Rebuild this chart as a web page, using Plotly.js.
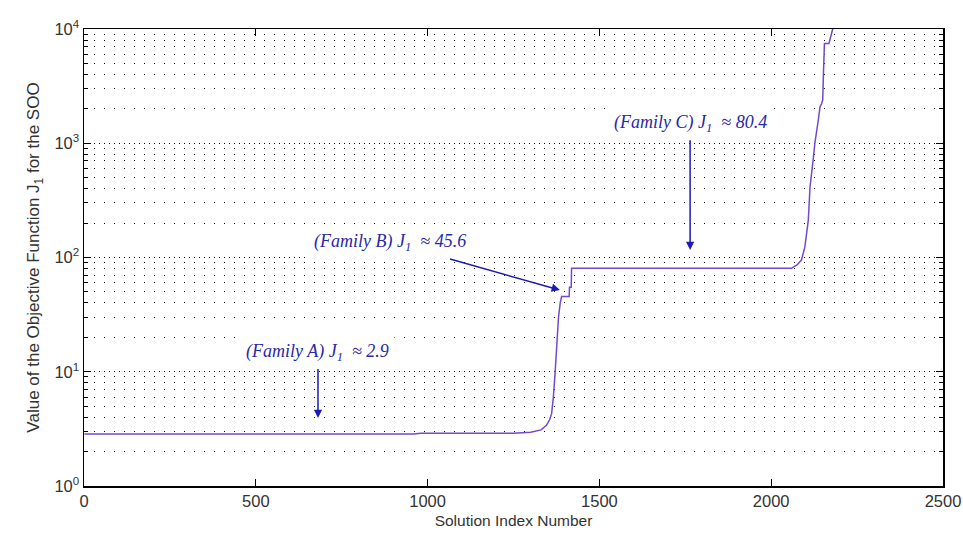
<!DOCTYPE html>
<html>
<head>
<meta charset="utf-8">
<script src="https://cdn.plot.ly/plotly-3.0.1.min.js"></script>
<style>html,body{margin:0;padding:0;background:#fff;}#chart{width:963px;height:539px;}</style>
</head>
<body>
<div id="chart"></div>
<script>
// Solution index numbers and objective values J1
var solutionIndex = [1, 960, 980, 1250, 1300, 1330, 1346, 1355, 1361, 1366, 1371, 1376, 1381, 1386, 1390, 1412, 1413, 1418, 1419, 2059, 2075, 2088, 2098, 2108, 2113, 2122, 2127, 2137, 2142, 2147, 2150, 2152, 2155, 2166, 2168, 2179, 2182];
var objectiveJ1   = [2.85, 2.85, 2.9, 2.9, 2.95, 3.1, 3.4, 3.8, 4.3, 6, 9.7, 18, 30, 40, 45.6, 45.6, 55, 55, 80.4, 80.4, 86, 95, 124, 212, 416, 711, 996, 1590, 2080, 2230, 2400, 4080, 7460, 7460, 7460, 10000, 12000];

var yTickVals  = [1, 10, 100, 1000, 10000];
var yTickText  = ['10<sup>0</sup>', '10<sup>1</sup>', '10<sup>2</sup>', '10<sup>3</sup>', '10<sup>4</sup>'];
var xTickVals  = [0, 500, 1000, 1500, 2000, 2500];

var annTexts = [
  '(Family A) J<sub>1</sub>  ≈ 2.9',
  '(Family B) J<sub>1</sub>  ≈ 45.6',
  '(Family C) J<sub>1</sub>  ≈ 80.4'
];

var minorVals = [];
for (var d = 0; d < 4; d++) {
  for (var k = 2; k <= 9; k++) minorVals.push(k * Math.pow(10, d));
}

var trace = {
  x: solutionIndex,
  y: objectiveJ1,
  type: 'scatter',
  mode: 'lines',
  line: {color: '#7448d0', width: 1.5},
  hoverinfo: 'x+y'
};

var annFont = {family: 'Liberation Serif, Times New Roman, serif', size: 18, color: '#2828a8'};
function ann(text, x, y, ax, ay) {
  return {
    text: '<i>' + text + '</i>',
    x: x, y: y, ax: ax, ay: ay,
    xref: 'x', yref: 'y', axref: 'x', ayref: 'y',
    showarrow: true, arrowhead: 2, arrowsize: 1.1, arrowwidth: 1.5,
    arrowcolor: '#1c1cb4', standoff: 0, startstandoff: 0,
    font: annFont, bgcolor: '#ffffff', borderpad: 5
  };
}

var minorCommon = {
  tickmode: 'array', tickvals: minorVals,
  ticks: 'inside', ticklen: 4, tickcolor: '#000'
};

var layout = {
  width: 963, height: 539,
  margin: {l: 84, r: 20, t: 29, b: 53},
  paper_bgcolor: '#ffffff',
  plot_bgcolor: '#ffffff',
  showlegend: false,
  font: {family: 'Liberation Sans, Arial, sans-serif', color: '#333333'},
  xaxis: {
    range: [0, 2500],
    tickmode: 'array', tickvals: xTickVals,
    ticks: 'inside', ticklen: 7, tickcolor: '#000',
    showgrid: false, zeroline: false,
    showline: true, linecolor: '#000', linewidth: 1.5, mirror: 'ticks',
    tickfont: {size: 16.5, color: '#333'},
    title: {text: 'Solution Index Number', font: {size: 15.5, color: '#333'}, standoff: 6}
  },
  yaxis: {
    type: 'log',
    range: [0, 4],
    tickmode: 'array', tickvals: yTickVals, ticktext: yTickText,
    ticks: 'inside', ticklen: 7, tickcolor: '#000',
    showgrid: true, gridcolor: '#000', griddash: '1px,4px', gridwidth: 1,
    zeroline: false,
    showline: true, linecolor: '#000', linewidth: 1.5, mirror: 'ticks',
    tickfont: {size: 16.5, color: '#333'},
    minor: Object.assign({showgrid: true, gridcolor: '#000', griddash: '1px,9px', gridwidth: 1}, minorCommon),
    title: {text: 'Value of the Objective Function J<sub>1</sub> for the SOO', font: {size: 17, color: '#333'}, standoff: 10}
  },
  yaxis2: {
    type: 'log',
    range: [0, 4],
    overlaying: 'y', side: 'right',
    tickmode: 'array', tickvals: yTickVals,
    ticks: 'inside', ticklen: 7, tickcolor: '#000',
    showticklabels: false, showgrid: false, zeroline: false, showline: false,
    minor: Object.assign({showgrid: false}, minorCommon)
  },
  annotations: [
    ann(annTexts[0], 681, 0.595, 681, 1.172),
    ann(annTexts[1], 1385, 1.715, 890, 2.135),
    ann(annTexts[2], 1764, 2.065, 1764, 3.176)
  ]
};

var rightAxisTrace = {x: [0], y: [1], yaxis: 'y2', type: 'scatter', mode: 'markers', marker: {opacity: 0}, hoverinfo: 'skip'};

Plotly.newPlot('chart', [trace, rightAxisTrace], layout, {displayModeBar: false, staticPlot: true});
</script>
</body>
</html>
